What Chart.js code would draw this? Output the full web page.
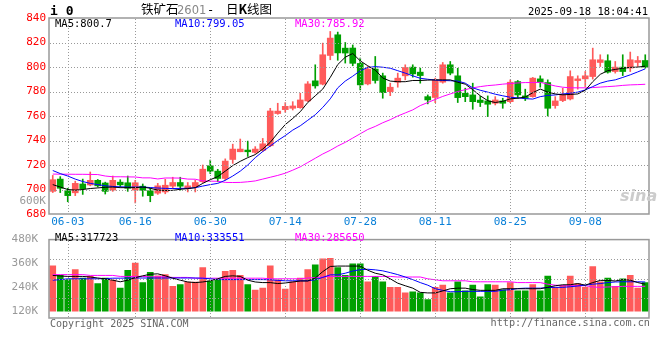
<!DOCTYPE html>
<html>
<head>
<meta charset="utf-8">
<script src="https://cdn.jsdelivr.net/npm/chart.js@4.4.1/dist/chart.umd.min.js"></script>
<style>
  body { margin: 0; background: #fff; }
  #wrap { position: relative; width: 660px; height: 360px; overflow: hidden; font-family: "DejaVu Sans Mono", monospace; }
  #wrap canvas { position: absolute; left: 0; }
  .t { position: absolute; white-space: pre; line-height: 1; }
  .cjk { font-family: "Noto Sans CJK SC"; font-size: 12.5px; top: 3px; }
</style>
</head>
<body>
<div id="wrap">
  <canvas id="kline" width="660" height="230" style="top:0"></canvas>
  <canvas id="vol" width="660" height="130" style="top:230px"></canvas>

  <div class="t" style="left:50px;top:4px;font-size:13px;font-weight:bold">i 0</div>
  <div class="t cjk" style="left:141px">铁矿石</div>
  <div class="t" style="left:177px;top:5px;font-size:11.5px;color:#888;font-family:'DejaVu Sans'">2601</div>
  <div class="t" style="left:207px;top:4px;font-size:12px">-</div>
  <div class="t cjk" style="left:226px">日<b>K</b>线图</div>
  <div class="t" style="right:12px;top:6px;font-size:10.5px">2025-09-18 18:04:41</div>

  <div class="t" style="left:55px;top:18px;font-size:10.5px;color:#000">MA5:800.7</div>
  <div class="t" style="left:175px;top:18px;font-size:10.5px;color:#00f">MA10:799.05</div>
  <div class="t" style="left:295px;top:18px;font-size:10.5px;color:#f0f">MA30:785.92</div>

  <div class="t" style="right:614px;top:195px;font-size:11px;color:#999">600K</div>
  <div class="t" style="left:620px;top:188px;font-size:16px;font-style:italic;font-weight:bold;color:#ccc;font-family:'DejaVu Sans'">sina</div>

  <div class="t" style="left:55px;top:232px;font-size:10.5px;color:#000">MA5:317723</div>
  <div class="t" style="left:175px;top:232px;font-size:10.5px;color:#00f">MA10:333551</div>
  <div class="t" style="left:295px;top:232px;font-size:10.5px;color:#f0f">MA30:285650</div>

  <div class="t" style="left:50px;top:319px;font-size:10px;color:#666">Copyright 2025 SINA.COM</div>
  <div class="t" style="right:10px;top:318px;font-size:10.2px;color:#666">http://finance.sina.com.cn</div>
</div>

<script>
// 日K 数据
const dates = [
  "05-29","05-30",
  "06-03","06-04","06-05","06-06","06-09","06-10","06-11","06-12","06-13",
  "06-16","06-17","06-18","06-19","06-20","06-23","06-24","06-25","06-26","06-27","06-30",
  "07-01","07-02","07-03","07-04","07-07","07-08","07-09","07-10","07-11",
  "07-14","07-15","07-16","07-17","07-18","07-21","07-22","07-23","07-24","07-25",
  "07-28","07-29","07-30","07-31","08-01","08-04","08-05","08-06","08-07","08-08",
  "08-11","08-12","08-13","08-14","08-15","08-18","08-19","08-20","08-21","08-22",
  "08-25","08-26","08-27","08-28","08-29","09-01","09-02","09-03","09-04","09-05",
  "09-08","09-09","09-10","09-11","09-12","09-15","09-16","09-17","09-18"
];
const tickDates = ["06-03","06-16","06-30","07-14","07-28","08-11","08-25","09-08"];
const priceGrid = [700, 720, 740, 760, 780, 800, 820];

const open = [
  698.5,708.5,699,697.3,704.5,703.7,707.5,705.3,699.5,706,
  705.5,699.5,702.7,699,697,698,702.7,705.7,700.8,702.2,
  706.3,719.4,715,709,724.5,730.8,732.2,730.3,732,735.7,
  762,765.2,766.3,766.8,772.3,788.7,786,809.4,826.3,815.4,
  815.5,802.9,786.2,798.3,792.8,779.9,787.6,792.8,799.9,795.8,
  775.8,775.1,787.6,801.8,792.8,778.6,777.2,773,772.3,770.4,
  772.3,771.7,788.1,776.4,775.8,790.3,787.3,768.5,772.6,773.9,
  788.9,790.3,792.2,803.7,805.1,796.3,799.9,799.1,803.7,805.3
];
const high = [
  711.5,710.5,701,706.8,708.5,714.3,708.2,706,711,708,
  711,707.5,704.5,701,705,708.4,710,710,705.7,707.6,
  720,724,716.5,725,737,741.2,739.5,735,741.7,766.3,
  770.4,770.9,771.7,778.6,788.1,801.8,819.5,829,828.5,820,
  818,807.3,800.4,808.6,795,786.8,795,801.8,801.8,799.1,
  777.2,790.9,803.7,804.5,799,782.7,786.8,776,776.4,775.8,
  774.5,789.5,789,781.9,791.5,792.8,789.5,775.8,782.7,796.9,
  792.8,796.3,815.4,810,810,804.5,810,812.2,808.6,810
];
const low = [
  697.5,697.5,690,695,696,703,702,696.3,698.5,702,
  698.5,689,694.5,690,696,696.5,700.5,699.5,698,698,
  705.7,713,706.3,707.6,721.3,730.8,727,729.5,731,734.9,
  761.4,763,764.9,766.3,771.7,782.7,785.4,805.9,805.5,803.2,
  801,781.3,785.4,786.8,774.5,776.6,783.5,789.5,791.7,786.8,
  769.9,770.9,786.8,793.6,771,771.7,765.5,767.7,759.5,769,
  766.3,770.9,774.5,772.6,775.3,783.5,760,766.3,771.7,773.1,
  781.9,784,790.1,800.4,795,795,793,796.3,800.4,799.1
];
const close = [
  708,701,695,705,700.7,707.5,703,698.5,707.5,703.8,
  701,705.5,699.3,695,703,703.5,705.7,702.7,703,705.7,
  716.6,715,709,723.2,733,733,730.8,733,737.3,764.1,
  764,767.9,768.2,773.1,786.2,784.6,810,823.6,811.5,811.4,
  803,785.4,798.3,789,779.1,783.5,790.9,799.6,794.4,793,
  773.1,789.5,801.8,795,775,775.8,771.7,771,769.6,773.1,
  770.4,787.6,777.2,774.5,790.9,787.6,766.3,772.3,777.2,792.2,
  790.3,792.8,805.9,805.9,795.8,799.9,796.3,805.9,805.3,799.9
];
const ma5 = [
  704,702,700,699.5,700,700.8,701.3,701.8,702,701.5,
  701.5,701.5,702,701,699.5,699.2,699.3,700.2,700.7,701.5,
  705,708,710.5,715,719.5,723,726,728.5,733,738.5,
  746,753,758,763.5,771,776.5,782,791.5,802,808,
  811,805,801,797.5,791,788.5,788,788,789,789,
  789.3,789.5,789.5,789.5,787.5,786,781.5,776.5,772.5,771,
  772,774,774.5,775.5,779,782,779.5,778,777.3,777.6,
  778,781,788,794,797,798,799,799.7,799.9,800.7
];
const ma10 = [
  715.5,713,711,708.5,706.5,705,704,703,702.5,702.2,
  702,702,702,701.6,701.2,700.9,700.8,700.9,701,701.5,
  702.8,704,705,707.5,711,715,720,726,731,735.5,
  740,744,748.5,752,756.5,761,767,774,783,788.5,
  792.5,797,799.6,800.3,799.8,799,797,795,792.8,790.8,
  790,789.3,789,788.8,788.5,786.8,783,781,779.5,777.8,
  776.5,775.3,774.8,774.2,773.8,775.8,776.8,777.2,778,778.6,
  779.5,781.3,784,786.8,788.5,789.5,791.5,793.6,796,798.5
];
const ma30 = [
  712.6,712.5,712.5,712.4,712.4,712.3,712.2,711,710.4,710.4,
  710.3,710.2,709.5,709.5,708.6,709.4,709.4,709.3,708.5,708.4,
  707,706.8,706.7,705.8,705.7,705.8,706.3,707,708.5,710,
  711.5,713.3,715.8,718.5,722,725.5,729,732,735.5,738.5,
  742,745.5,749,751.5,754.5,757,760,762.5,765,768.5,
  771,773.5,776,778,780,781.5,783,784,784.8,785.3,
  786,786.5,787,787.3,787.3,787.5,786,784.5,783.5,783,
  783,783,783.2,783.6,784,784.4,785,785.4,785.6,785.9
];

// 成交量
const volume = [
  348000,301000,279000,329000,287000,295000,259000,287000,276000,236000,
  325000,362000,264000,315000,298000,304000,245000,254000,267000,267000,
  339000,272000,276000,320000,325000,301000,254000,226000,236000,348000,
  278000,231000,268000,287000,329000,353000,383000,386000,340000,301000,
  358000,358000,268000,295000,268000,240000,240000,212000,217000,212000,
  179000,240000,251000,212000,268000,222000,251000,193000,254000,251000,
  228000,264000,222000,222000,254000,222000,297000,240000,250000,297000,
  259000,240000,344000,268000,287000,245000,283000,301000,236000,264000
];
const volMa5 = [
  300000,297000,295000,295000,295000,292000,287000,283000,276000,268000,
  276000,289000,298000,306000,308000,298000,286000,276000,267000,264000,
  267000,273000,283000,295000,298000,295000,276000,267000,264000,264000,
  259000,262000,267000,272000,272000,287000,319000,345000,347000,347000,
  347000,347000,326000,311000,303000,283000,261000,248000,236000,215000,
  212000,212000,222000,233000,236000,236000,229000,225000,225000,225000,
  233000,233000,233000,233000,233000,233000,240000,248000,253000,253000,
  259000,251000,264000,275000,275000,272000,279000,276000,264000,256000
];
const volMa10 = [
  276000,279000,283000,283000,283000,283000,283000,284000,286000,286000,
  287000,287000,287000,287000,287000,287000,287000,287000,287000,287000,
  286000,283000,279000,279000,279000,279000,279000,279000,279000,278000,
  275000,273000,273000,273000,273000,278000,290000,303000,303000,311000,
  322000,329000,331000,328000,323000,314000,304000,292000,279000,264000,
  251000,233000,225000,218000,218000,220000,220000,220000,220000,220000,
  226000,228000,234000,236000,236000,236000,239000,240000,240000,243000,
  247000,251000,256000,259000,264000,267000,268000,268000,268000,267000
];
const volMa30 = [
  304000,304000,304000,304000,304000,300000,300000,300000,300000,295000,
  295000,295000,295000,293000,293000,293000,290000,290000,290000,286000,
  286000,286000,286000,286000,286000,286000,286000,286000,286000,283000,
  283000,283000,283000,283000,287000,289000,292000,295000,295000,295000,
  295000,295000,295000,295000,295000,295000,292000,292000,292000,292000,
  283000,278000,273000,273000,273000,273000,268000,268000,268000,268000,
  268000,268000,264000,264000,264000,264000,256000,251000,248000,248000,
  248000,248000,242000,240000,242000,243000,245000,245000,245000,245000
];
const volTicks = [120000, 240000, 360000, 480000];
const volGrid = [1, 2, 3]; // 量图四等分线

const RED = "#ff5a5a";
const GREEN = "#00a000";
const upDown = close.map((c, i) => (c >= open[i] ? RED : GREEN));

// 点线网格 + 外框（在数据集之后画）
function panelPlugin(gridAxis, gridValues) {
  return {
    id: "panel",
    afterDatasetsDraw(chart) {
      const { ctx, chartArea: a, scales } = chart;
      ctx.save();
      ctx.fillStyle = "#999";
      dates.forEach((d, i) => {
        if (!tickDates.includes(d)) return;
        const x = Math.round(scales.x.getPixelForValue(i));
        for (let y = Math.ceil(a.top) + 1; y < a.bottom - 1; y += 3) ctx.fillRect(x, y, 1, 1);
      });
      gridValues.forEach((v) => {
        const y = Math.round(scales[gridAxis].getPixelForValue(v));
        for (let x = Math.ceil(a.left) + 1; x < a.right - 1; x += 3) ctx.fillRect(x, y, 1, 1);
      });
      ctx.strokeStyle = "#999";
      ctx.lineWidth = 1.5;
      ctx.strokeRect(a.left, a.top, a.right - a.left, a.bottom - a.top);
      ctx.restore();
    }
  };
}

Chart.defaults.font.family = "DejaVu Sans Mono";

function xAxis(showLabels) {
  return {
    type: "category",
    offset: true,
    ticks: {
      display: showLabels,
      autoSkip: false,
      maxRotation: 0,
      padding: 2,
      color: "#0a80d8",
      font: { size: 11 },
      callback: (v, i) => (tickDates.includes(dates[i]) ? dates[i] : "")
    },
    grid: { display: false, drawTicks: false },
    border: { display: false },
    afterFit: (s) => { s.height = showLabels ? 16 : 0; }
  };
}

function maLine(data, color) {
  return {
    type: "line",
    data: data,
    borderColor: color,
    borderWidth: 1,
    pointRadius: 0,
    tension: 0,
    order: 0
  };
}

const common = {
  responsive: false,
  animation: false,
  devicePixelRatio: 1,
  events: []
};

// K线
new Chart(document.getElementById("kline").getContext("2d"), {
  type: "bar",
  data: {
    labels: dates,
    datasets: [
      maLine(ma5, "#000"),
      maLine(ma10, "#00f"),
      maLine(ma30, "#f0f"),
      {
        data: open.map((o, i) => [o, close[i]]),
        backgroundColor: upDown,
        barThickness: 6,
        minBarLength: 1,
        grouped: false,
        order: 1
      },
      {
        data: low.map((l, i) => [l, high[i]]),
        backgroundColor: upDown,
        barThickness: 1,
        grouped: false,
        order: 2
      }
    ]
  },
  options: {
    ...common,
    layout: { padding: { top: 18, right: 11, bottom: 0, left: 0 } },
    plugins: { legend: { display: false }, tooltip: { enabled: false } },
    scales: {
      x: xAxis(true),
      y: {
        min: 680,
        max: 840,
        ticks: { stepSize: 20, color: "#f00", padding: 3, font: { size: 11 } },
        grid: { display: false, drawTicks: false },
        border: { display: false },
        afterFit: (s) => { s.width = 49; }
      }
    }
  },
  plugins: [panelPlugin("y", priceGrid)]
});

// 成交量
new Chart(document.getElementById("vol").getContext("2d"), {
  type: "bar",
  data: {
    labels: dates,
    datasets: [
      maLine(volMa5, "#000"),
      maLine(volMa10, "#00f"),
      maLine(volMa30, "#f0f"),
      {
        data: volume,
        backgroundColor: upDown,
        barThickness: 6,
        base: 120000,
        order: 1
      }
    ]
  },
  options: {
    ...common,
    layout: { padding: { top: 4, right: 11, bottom: 42, left: 0 } },
    plugins: { legend: { display: false }, tooltip: { enabled: false } },
    scales: {
      x: xAxis(false),
      y: {
        min: 86000,
        max: 480000,
        afterBuildTicks: (s) => { s.ticks = volTicks.map((v) => ({ value: v })); },
        ticks: { color: "#999", padding: 3, font: { size: 11 }, callback: (v) => v / 1000 + "K" },
        grid: { display: false },
        border: { display: false },
        afterFit: (s) => { s.width = 49; }
      },
      yg: {
        position: "right",
        min: 0,
        max: 4,
        ticks: { display: false },
        grid: { display: false, drawTicks: false },
        border: { display: false },
        afterFit: (s) => { s.width = 0; }
      }
    }
  },
  plugins: [panelPlugin("yg", volGrid)]
});
</script>
</body>
</html>
